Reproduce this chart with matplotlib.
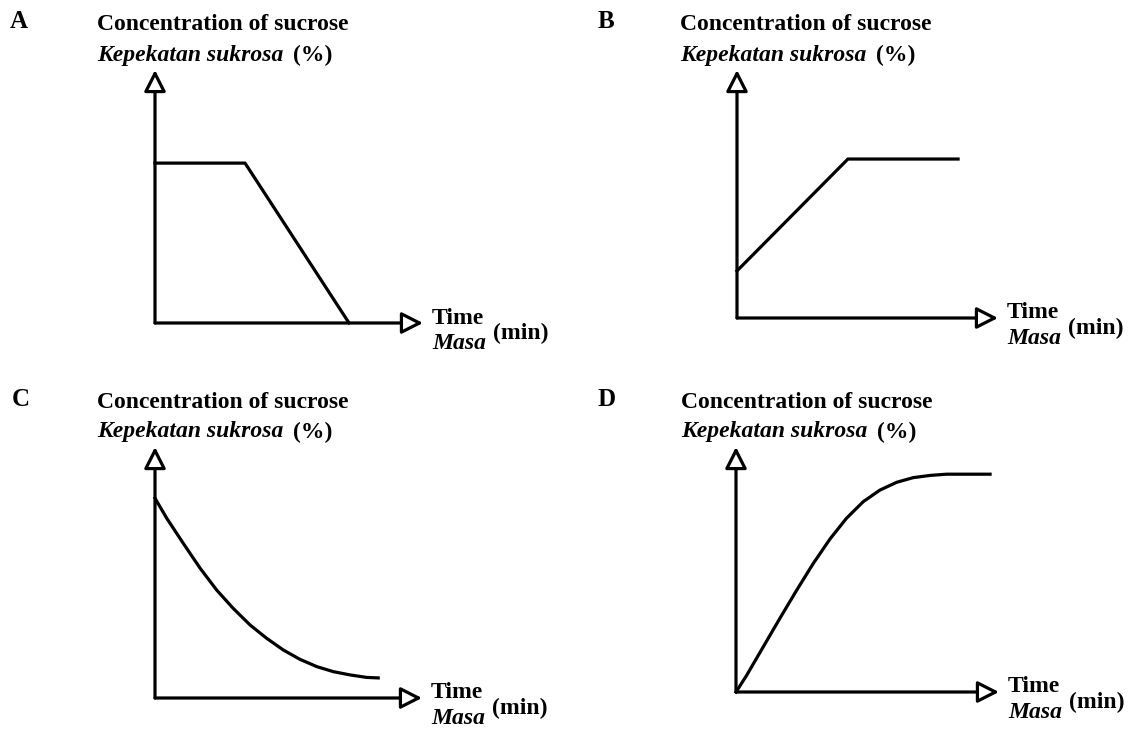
import matplotlib
matplotlib.use('Agg')
import matplotlib.pyplot as plt

W, H = 1132, 733

# data (arbitrary units, axes run 0..10 from origin to arrow tip)
a_time = [0, 3.36, 7.24]
a_conc = [6.32, 6.32, 0]

b_time = [0, 4.25, 8.47]
b_conc = [1.9, 6.41, 6.41]

c_time = [0, 0.44, 1.06, 1.69, 2.31, 2.93, 3.56, 4.18, 4.81, 5.43, 6.06, 6.68, 7.30, 7.93, 8.36]
c_conc = [7.96, 7.16, 6.16, 5.17, 4.30, 3.57, 2.91, 2.38, 1.91, 1.54, 1.25, 1.05, 0.92, 0.82, 0.80]

d_time = [0, 0.41, 1.04, 1.67, 2.31, 2.94, 3.57, 4.20, 4.84, 5.47, 6.11, 6.74, 7.38, 8.01, 9.66]
d_conc = [0, 0.69, 1.85, 3.01, 4.16, 5.25, 6.24, 7.09, 7.77, 8.24, 8.56, 8.75, 8.84, 8.89, 8.89]

letters = ['A', 'B', 'C', 'D']
title_en = 'Concentration of sucrose'
title_my = 'Kepekatan sukrosa'
x_en = 'Time'
x_my = 'Masa'

# panel layout in pixels: origin x, origin y, x tip, y tip, letter x, header x, header y
panels = [
    (155, 323, 423, 70, 10, 97, 25, a_time, a_conc),
    (737, 318, 998, 70, 598, 680, 25, b_time, b_conc),
    (155, 698, 422, 447, 12, 97, 402, c_time, c_conc),
    (736, 692, 999, 447, 598, 681, 402, d_time, d_conc),
]

plt.rcParams['font.family'] = ['Liberation Serif', 'DejaVu Serif']
fig = plt.figure(figsize=(W / 100, H / 100), dpi=100)
fig.patch.set_facecolor('white')


def txt(x, y, s, **kw):
    fig.text(x / W, 1 - y / H, s, va='center', ha='left', fontweight='bold', **kw)


lw = 2.3
fs = 17
for (ox, oy, tx, ty, lx, hx, hy, t, c), letter in zip(panels, letters):
    ax = fig.add_axes([ox / W, 1 - oy / H, (tx - ox) / W, (oy - ty) / H])
    ax.set_xlim(0, 10)
    ax.set_ylim(0, 10)
    ax.axis('off')
    ap = dict(arrowstyle='-|>,head_length=1.3,head_width=0.66', fc='white', ec='black',
              lw=lw, shrinkA=0, shrinkB=0, mutation_scale=10)
    ax.annotate('', xy=(10, 0), xytext=(0, 0), arrowprops=ap, annotation_clip=False)
    ax.annotate('', xy=(0, 10), xytext=(0, 0), arrowprops=ap, annotation_clip=False)
    ax.plot(t, c, color='black', lw=lw, clip_on=False, solid_joinstyle='miter')

    txt(lx, hy - 3, letter, fontsize=18)
    txt(hx, hy, title_en, fontsize=fs)
    txt(hx, hy + 30, title_my, fontsize=fs, fontstyle='italic')
    txt(hx + 196, hy + 30, '(%)', fontsize=fs)
    txt(tx + 9, oy - 5, x_en, fontsize=fs)
    txt(tx + 9, oy + 21, x_my, fontsize=fs, fontstyle='italic')
    txt(tx + 70, oy + 10, '(min)', fontsize=fs)

fig.savefig('out.png', dpi=100, facecolor='white')
